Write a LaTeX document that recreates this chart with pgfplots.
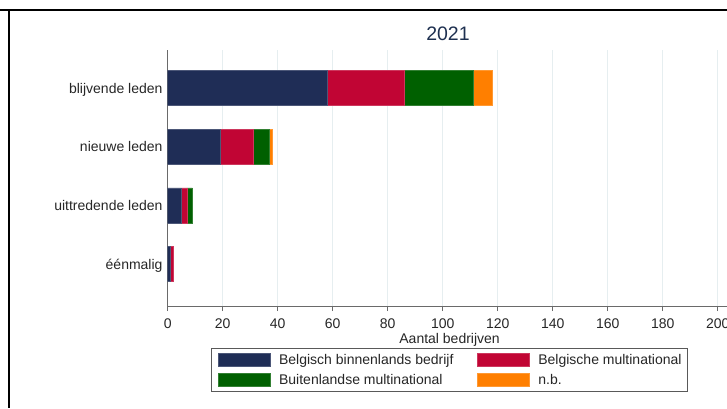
\documentclass[border=0pt]{standalone}
\usepackage{fontspec}
\setmainfont{Liberation Sans}
\usepackage{pgfplots}
\pgfplotsset{compat=1.18}
\definecolor{cnavy}{HTML}{1F2D56}
\definecolor{cred}{HTML}{C10534}
\definecolor{cgreen}{HTML}{006000}
\definecolor{corange}{HTML}{FF7F00}
\definecolor{ctitle}{HTML}{1E3050}
\definecolor{cgrid}{HTML}{E6EEF0}
\definecolor{caxis}{HTML}{6A6A6A}
\begin{document}
\begin{tikzpicture}
\useasboundingbox (0pt,0pt) rectangle (727pt,408pt);
\begin{scope}
\clip (0pt,0pt) rectangle (727pt,408pt);
\begin{axis}[
  at={(167.7pt,102pt)}, anchor=south west,
  scale only axis, width=563.75pt, height=256pt,
  xmin=0, xmax=205, ymin=-0.716, ymax=3.647,
  xbar stacked, bar width=35pt,
  axis lines=left, axis line style={-, caxis, line width=0.9pt},
  xtick={0,20,...,200},
  ytick={0,1,2,3},
  yticklabels={éénmalig, uittredende leden, nieuwe leden, blijvende leden},
  tick align=outside, major tick length=5pt,
  xtick style={caxis, line width=0.9pt},
  ytick style={draw=none},
  xmajorgrids, major grid style={cgrid, line width=1.2pt},
  /pgf/number format/assume math mode=true,
  xticklabel style={font=\fontsize{14}{16}\selectfont, text=black!85, anchor=base, inner sep=0pt, yshift=-17.9pt},
  yticklabel style={font=\fontsize{14}{16}\selectfont, text=black!85, anchor=base east, inner sep=0pt, xshift=0pt, yshift=-5.3pt},
  title={2021},
  title style={at={(axis description cs:0.5,1)}, anchor=base, yshift=4pt, xshift=-1.6pt, inner sep=0pt, font=\fontsize{19.5}{22}\selectfont, text=ctitle},
  xlabel={Aantal bedrijven},
  xlabel style={at={(axis description cs:0.5,0)}, anchor=base, yshift=-37.6pt, inner sep=0pt, font=\fontsize{14}{16}\selectfont, text=black!85},
  legend columns=2,
  legend image code/.code={\fill[#1] (0pt,-1.5pt) rectangle (52pt,11.5pt);},
  legend style={at={(axis description cs:0.5,-0.249)}, anchor=center, draw=black!65, line width=0.8pt,
    inner xsep=6pt, inner ysep=5pt, row sep=6pt, font=\fontsize{14}{16}\selectfont, text=black!85,
    nodes={inner sep=0pt, anchor=base west},
    /tikz/every odd column/.append style={column sep=9pt},
    /tikz/every even column/.append style={column sep=23.4pt}},
]
\addplot[fill=cnavy, draw=cnavy!80!white, line width=0.5pt] coordinates {(1,0) (5,1) (19,2) (58,3)};
\addlegendentry{Belgisch binnenlands bedrijf}
\addplot[fill=cred, draw=cred!80!white, line width=0.5pt] coordinates {(1,0) (2,1) (12,2) (28,3)};
\addlegendentry{Belgische multinational}
\addplot[fill=cgreen, draw=cgreen!80!white, line width=0.5pt] coordinates {(0,0) (2,1) (6,2) (25,3)};
\addlegendentry{Buitenlandse multinational}
\addplot[fill=corange, draw=corange!80!white, line width=0.5pt] coordinates {(0,0) (0,1) (1,2) (7,3)};
\addlegendentry{n.b.}
\end{axis}
\end{scope}
\draw[line width=1.8pt, black] (0pt,398pt) -- (727pt,398pt);
\draw[line width=1.8pt, black] (8.7pt,398.9pt) -- (8.7pt,0pt);
\end{tikzpicture}
\end{document}
